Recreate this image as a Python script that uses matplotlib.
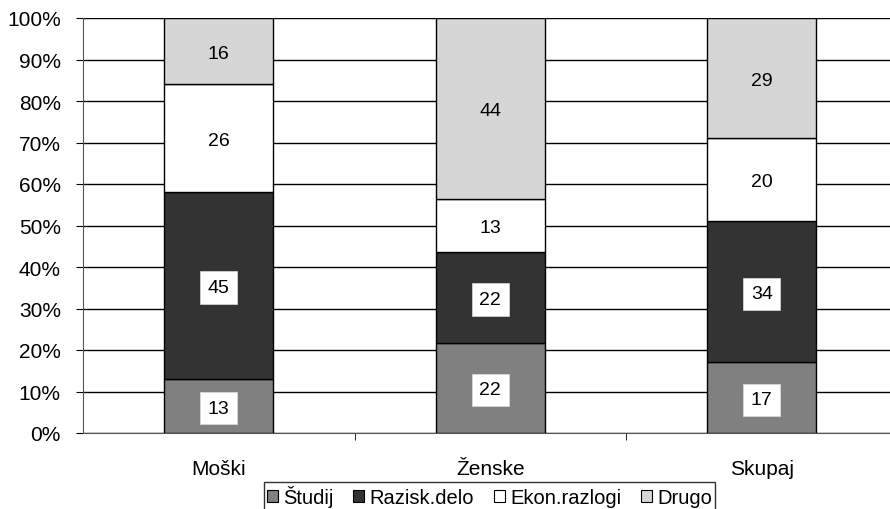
import numpy as np
import matplotlib.pyplot as plt
from matplotlib.patches import Patch

plt.rcParams['font.family'] = ['Liberation Sans', 'DejaVu Sans']

# data
groups = ['Moški', 'Ženske', 'Skupaj']
series = ['Študij', 'Razisk.delo', 'Ekon.razlogi', 'Drugo']
studij = [13, 22, 17]
razisk = [45, 22, 34]
ekon = [26, 13, 20]
drugo = [16, 44, 29]
colors = ['#808080', '#333333', '#ffffff', '#d6d6d6']
boxed = [True, True, False, False]

values = np.array([studij, razisk, ekon, drugo], dtype=float)
pct = values / values.sum(axis=0) * 100

fig = plt.figure(figsize=(8.9, 5.1), dpi=100)
ax = fig.add_axes([83 / 890, 76 / 510, 814.5 / 890, 415 / 510])

x = np.arange(len(groups))
bottom = np.zeros(len(groups))
for i, name in enumerate(series):
    ax.bar(x, pct[i], 0.4, bottom=bottom, color=colors[i], edgecolor='black',
           linewidth=1, zorder=3)
    for j in range(len(groups)):
        yc = bottom[j] + pct[i][j] / 2
        lbl = str(int(values[i][j]))
        if boxed[i]:
            ax.text(x[j], yc - 0.5, lbl, ha='center', va='center', fontsize=14, zorder=4,
                    bbox=dict(boxstyle='square,pad=0.4', facecolor='white',
                              edgecolor='#dddddd', linewidth=0.5))
        else:
            ax.text(x[j], yc - 0.5, lbl, ha='center', va='center', fontsize=14, zorder=4)
    bottom += pct[i]

ax.set_xlim(-0.5, 2.5)
ax.set_ylim(0, 100)
ax.set_yticks(np.arange(0, 101, 10))
ax.set_yticklabels([f'{v}%' for v in range(0, 101, 10)], fontsize=15)
ax.set_xticks(x)
ax.set_xticklabels(groups, fontsize=15)
ax.set_xticks([0.5, 1.5], minor=True)
ax.tick_params(axis='x', which='major', length=0, pad=19)
ax.tick_params(axis='x', which='minor', length=5, direction='out')
ax.tick_params(axis='y', length=5, direction='out', pad=11)
ax.yaxis.grid(True, color='black', linewidth=1, zorder=0)
ax.set_axisbelow(True)
for s in ['top', 'right']:
    ax.spines[s].set_visible(False)
ax.spines['left'].set_color('#555555')
ax.spines['bottom'].set_color('#555555')

handles = [Patch(facecolor=c, edgecolor='black', linewidth=0.8) for c in colors]
leg = fig.legend(handles, series, loc='upper center', ncol=4,
                 bbox_to_anchor=(489.5 / 890, 1 - 483 / 510), fontsize=14.5,
                 frameon=True, fancybox=False, edgecolor='black',
                 handlelength=0.55, handleheight=0.55, handletextpad=0.25,
                 columnspacing=1.0, borderpad=0.15, borderaxespad=0)
leg.get_frame().set_linewidth(1)

fig.savefig('out.png', dpi=100)
